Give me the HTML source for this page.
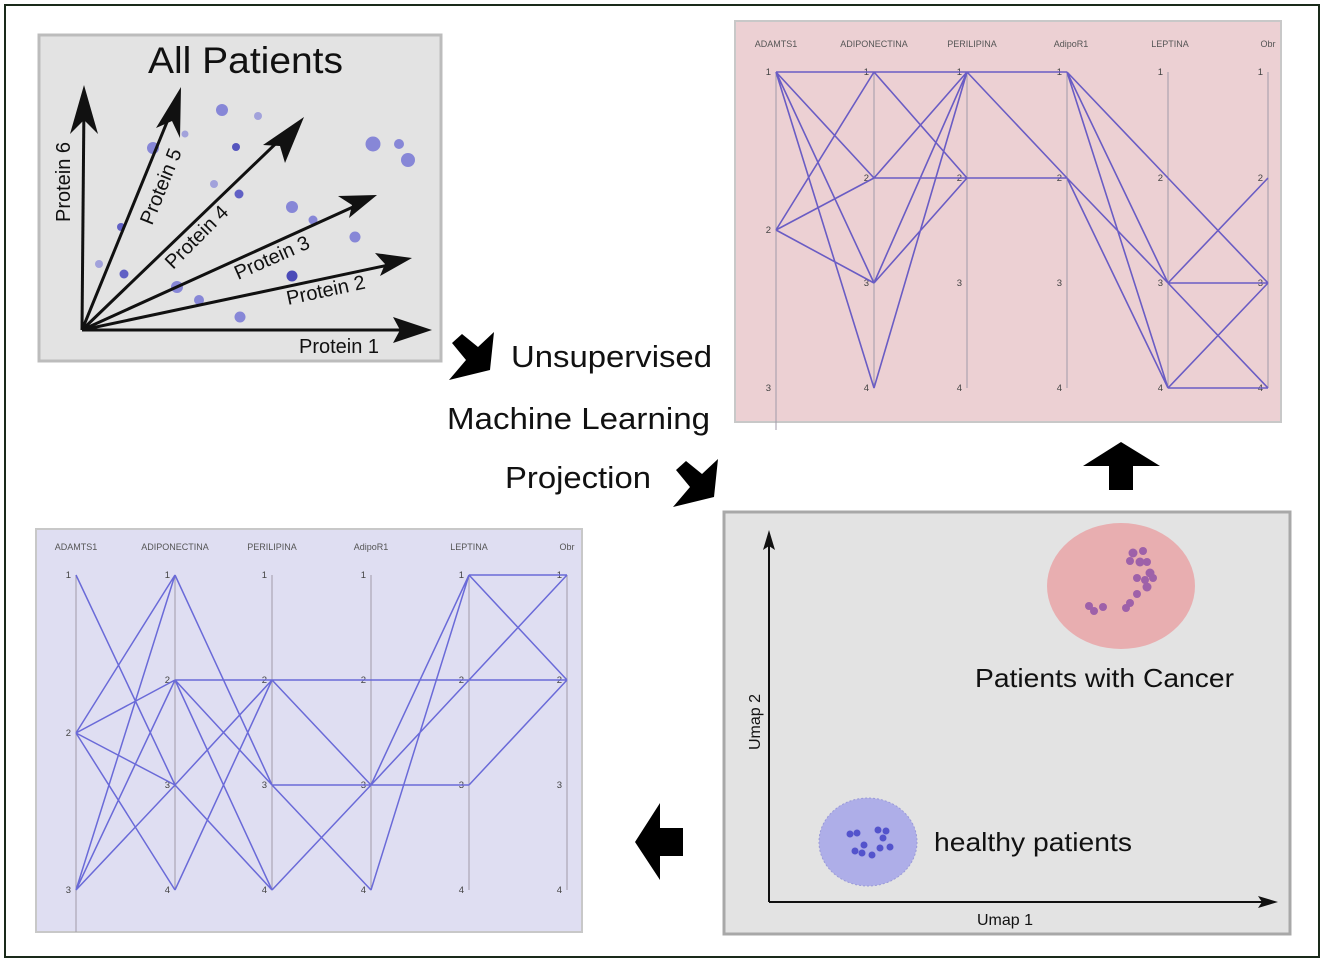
<!DOCTYPE html>
<html><head><meta charset="utf-8"><style>
html,body{margin:0;padding:0;background:#fff}
svg{display:block}
text{font-family:"Liberation Sans",sans-serif}
</style></head><body>
<svg width="1325" height="962" viewBox="0 0 1325 962" xmlns="http://www.w3.org/2000/svg">
<rect x="5" y="5" width="1314" height="952" fill="#fff" stroke="#1a2a1a" stroke-width="2"/>

<rect x="39" y="35" width="402" height="326" fill="#e3e3e3" stroke="#bcbcbc" stroke-width="3"/>
<text x="148" y="73" font-size="37" textLength="195" lengthAdjust="spacingAndGlyphs" fill="#111">All Patients</text>
<g fill="#7777d6" opacity="0.85">
<circle cx="222" cy="110" r="6"/><circle cx="258" cy="116" r="4" opacity=".7"/><circle cx="185" cy="134" r="3.5" opacity=".7"/>
<circle cx="153" cy="148" r="6"/><circle cx="236" cy="147" r="4" fill="#3d3db8"/><circle cx="373" cy="144" r="7.5"/>
<circle cx="399" cy="144" r="5"/><circle cx="408" cy="160" r="7"/><circle cx="214" cy="184" r="4" opacity=".7"/>
<circle cx="239" cy="194" r="4.5" fill="#4a4ac0"/><circle cx="292" cy="207" r="6"/><circle cx="313" cy="220" r="4.5"/>
<circle cx="121" cy="227" r="4" fill="#4a4ac0"/><circle cx="355" cy="237" r="5.5"/><circle cx="99" cy="264" r="4" opacity=".7"/>
<circle cx="124" cy="274" r="4.5" fill="#4a4ac0"/><circle cx="292" cy="276" r="5.5" fill="#3030b0"/><circle cx="177" cy="287" r="6"/>
<circle cx="199" cy="300" r="5"/><circle cx="240" cy="317" r="5.5"/>
</g>
<g stroke="#111" stroke-width="3" fill="none">
<line x1="82" y1="330" x2="84" y2="100"/><line x1="82" y1="330" x2="176" y2="100"/>
<line x1="82" y1="330" x2="292" y2="128"/><line x1="82" y1="330" x2="364" y2="202"/>
<line x1="82" y1="330" x2="398" y2="263"/><line x1="82" y1="330" x2="416" y2="330"/>
</g>
<g fill="#111">
<polygon points="84,85 98,134 84,120 70,134"/>
<polygon points="181,87 180,138 172,121 156,128"/>
<polygon points="304,117 285,163 280,146 263,145"/>
<polygon points="377,195 349,218 352,205 338,196"/>
<polygon points="412,258 380,276 385,264 375,253"/>
<polygon points="432,330 393,343 400,330 393,317"/>
</g>
<g font-size="20" fill="#111">
<text transform="translate(70,222) rotate(-90)">Protein 6</text>
<text transform="translate(152,226) rotate(-68)">Protein 5</text>
<text transform="translate(173,270) rotate(-45)">Protein 4</text>
<text transform="translate(238,280) rotate(-24)">Protein 3</text>
<text transform="translate(288,305) rotate(-12)">Protein 2</text>
<text x="299" y="353">Protein 1</text>
</g>

<polygon points="452,343 462,334 478,347 494,332 490,370 449,380 466,360" fill="#000"/>
<polygon points="452,343 462,334 478,347 494,332 490,370 449,380 466,360" fill="#000" transform="translate(224,127)"/>
<g font-size="31" fill="#111">
<text x="511" y="367" textLength="201" lengthAdjust="spacingAndGlyphs">Unsupervised</text>
<text x="447" y="429" textLength="263" lengthAdjust="spacingAndGlyphs">Machine Learning</text>
<text x="505" y="488" textLength="146" lengthAdjust="spacingAndGlyphs">Projection</text>
</g>
<polygon points="1121,442 1160,466 1133,466 1133,490 1109,490 1109,466 1083,466" fill="#000"/>
<polygon points="635,842 660,803 660,828 683,828 683,856 660,856 660,880" fill="#000"/>

<rect x="735" y="21" width="546" height="401" fill="#ecd0d3" stroke="#c8c8c8" stroke-width="2"/>
<g font-size="9" fill="#555" text-anchor="middle">
<text x="776" y="47">ADAMTS1</text><text x="874" y="47">ADIPONECTINA</text><text x="972" y="47">PERILIPINA</text>
<text x="1071" y="47">AdipoR1</text><text x="1170" y="47">LEPTINA</text><text x="1268" y="47">Obr</text>
</g>
<g stroke="#a09aa8" stroke-width="1">
<line x1="776" y1="72" x2="776" y2="430"/><line x1="874" y1="72" x2="874" y2="388"/><line x1="967" y1="72" x2="967" y2="388"/>
<line x1="1067" y1="72" x2="1067" y2="388"/><line x1="1168" y1="72" x2="1168" y2="388"/><line x1="1268" y1="72" x2="1268" y2="388"/>
</g>
<g font-size="9.5" fill="#444" text-anchor="end">
<text x="771" y="75">1</text><text x="771" y="233">2</text><text x="771" y="391">3</text>
<text x="869" y="75">1</text><text x="869" y="181">2</text><text x="869" y="286">3</text><text x="869" y="391">4</text>
<text x="962" y="75">1</text><text x="962" y="181">2</text><text x="962" y="286">3</text><text x="962" y="391">4</text>
<text x="1062" y="75">1</text><text x="1062" y="181">2</text><text x="1062" y="286">3</text><text x="1062" y="391">4</text>
<text x="1163" y="75">1</text><text x="1163" y="181">2</text><text x="1163" y="286">3</text><text x="1163" y="391">4</text>
<text x="1263" y="75">1</text><text x="1263" y="181">2</text><text x="1263" y="286">3</text><text x="1263" y="391">4</text>
</g>
<path stroke="#6a5cc4" stroke-width="1.6" fill="none" d="
M776,72L874,72 M776,72L874,178 M776,72L874,283 M776,72L874,388
M776,230L874,72 M776,230L874,178 M776,230L874,283
M874,72L967,72 M874,72L967,178 M874,178L967,72 M874,178L967,178 M874,283L967,72 M874,283L967,178 M874,388L967,72
M967,72L1067,72 M967,72L1067,178 M967,178L1067,178
M1067,72L1168,283 M1067,72L1168,388 M1067,72L1168,178L1268,283 M1067,178L1168,283 M1067,178L1168,388
M1168,283L1268,178 M1168,283L1268,283 M1168,283L1268,388 M1168,388L1268,283 M1168,388L1268,388"/>

<rect x="36" y="529" width="546" height="403" fill="#dfdef2" stroke="#c8c8c8" stroke-width="2"/>
<g font-size="9" fill="#555" text-anchor="middle">
<text x="76" y="550">ADAMTS1</text><text x="175" y="550">ADIPONECTINA</text><text x="272" y="550">PERILIPINA</text>
<text x="371" y="550">AdipoR1</text><text x="469" y="550">LEPTINA</text><text x="567" y="550">Obr</text>
</g>
<g stroke="#a09aa8" stroke-width="1">
<line x1="76" y1="575" x2="76" y2="932"/><line x1="175" y1="575" x2="175" y2="890"/><line x1="272" y1="575" x2="272" y2="890"/>
<line x1="371" y1="575" x2="371" y2="890"/><line x1="469" y1="575" x2="469" y2="890"/><line x1="567" y1="575" x2="567" y2="890"/>
</g>
<g font-size="9.5" fill="#444" text-anchor="end">
<text x="71" y="578">1</text><text x="71" y="736">2</text><text x="71" y="893">3</text>
<text x="170" y="578">1</text><text x="170" y="683">2</text><text x="170" y="788">3</text><text x="170" y="893">4</text>
<text x="267" y="578">1</text><text x="267" y="683">2</text><text x="267" y="788">3</text><text x="267" y="893">4</text>
<text x="366" y="578">1</text><text x="366" y="683">2</text><text x="366" y="788">3</text><text x="366" y="893">4</text>
<text x="464" y="578">1</text><text x="464" y="683">2</text><text x="464" y="788">3</text><text x="464" y="893">4</text>
<text x="562" y="578">1</text><text x="562" y="683">2</text><text x="562" y="788">3</text><text x="562" y="893">4</text>
</g>
<path stroke="#6a6ad8" stroke-width="1.5" fill="none" d="
M76,575L175,785 M76,733L175,575 M76,733L175,680 M76,733L175,785 M76,733L175,890
M76,890L175,575 M76,890L175,680 M76,890L175,785L272,680
M175,575L272,785 M175,680L272,680 M175,680L272,785 M175,680L272,890 M175,785L272,890 M175,890L272,680
M272,680L371,680 M272,680L371,785 M272,785L371,785 M272,785L371,890 M272,890L371,785
M371,680L469,680 M371,785L469,575 M371,785L469,785 M371,785L469,680L567,575 M371,890L469,575
M469,575L567,575 M469,575L567,680 M469,680L567,680 M469,785L567,680"/>

<rect x="724" y="512" width="566" height="422" fill="#e3e3e3" stroke="#a8a8a8" stroke-width="3"/>
<line x1="769" y1="902" x2="769" y2="540" stroke="#111" stroke-width="2"/>
<polygon points="769,530 775,550 769,546 763,550" fill="#111"/>
<line x1="769" y1="902" x2="1268" y2="902" stroke="#111" stroke-width="2"/>
<polygon points="1278,902 1258,908 1262,902 1258,896" fill="#111"/>
<text x="1005" y="925" font-size="16" text-anchor="middle" fill="#111">Umap 1</text>
<text transform="translate(760,750) rotate(-90)" font-size="16" fill="#111">Umap 2</text>
<ellipse cx="1121" cy="586" rx="74" ry="63" fill="#e8aeb0"/>
<g fill="#8c4fa8" opacity="0.8">
<circle cx="1133" cy="553" r="4.5"/><circle cx="1143" cy="551" r="4"/><circle cx="1130" cy="561" r="4"/>
<circle cx="1140" cy="562" r="4.5"/><circle cx="1147" cy="562" r="4"/><circle cx="1150" cy="573" r="4.5"/>
<circle cx="1137" cy="578" r="4"/><circle cx="1145" cy="580" r="4"/><circle cx="1153" cy="578" r="4"/>
<circle cx="1147" cy="587" r="4.5"/><circle cx="1137" cy="594" r="4"/><circle cx="1130" cy="603" r="4"/>
<circle cx="1126" cy="608" r="4"/><circle cx="1103" cy="607" r="4"/><circle cx="1089" cy="606" r="4"/>
<circle cx="1094" cy="611" r="4"/>
</g>
<text x="975" y="687" font-size="26" textLength="259" lengthAdjust="spacingAndGlyphs" fill="#111">Patients with Cancer</text>
<ellipse cx="868" cy="842" rx="49" ry="44" fill="#aeaee8" stroke="#9a9ad8" stroke-dasharray="2,2"/>
<g fill="#4444c8" opacity="0.85">
<circle cx="850" cy="834" r="3.5"/><circle cx="857" cy="833" r="3.5"/><circle cx="878" cy="830" r="3.5"/>
<circle cx="886" cy="831" r="3.5"/><circle cx="883" cy="838" r="3.5"/><circle cx="864" cy="845" r="3.5"/>
<circle cx="855" cy="851" r="3.5"/><circle cx="862" cy="853" r="3.5"/><circle cx="872" cy="855" r="3.5"/>
<circle cx="880" cy="848" r="3.5"/><circle cx="890" cy="847" r="3.5"/>
</g>
<text x="934" y="851" font-size="26" textLength="198" lengthAdjust="spacingAndGlyphs" fill="#111">healthy patients</text>
</svg>
</body></html>
